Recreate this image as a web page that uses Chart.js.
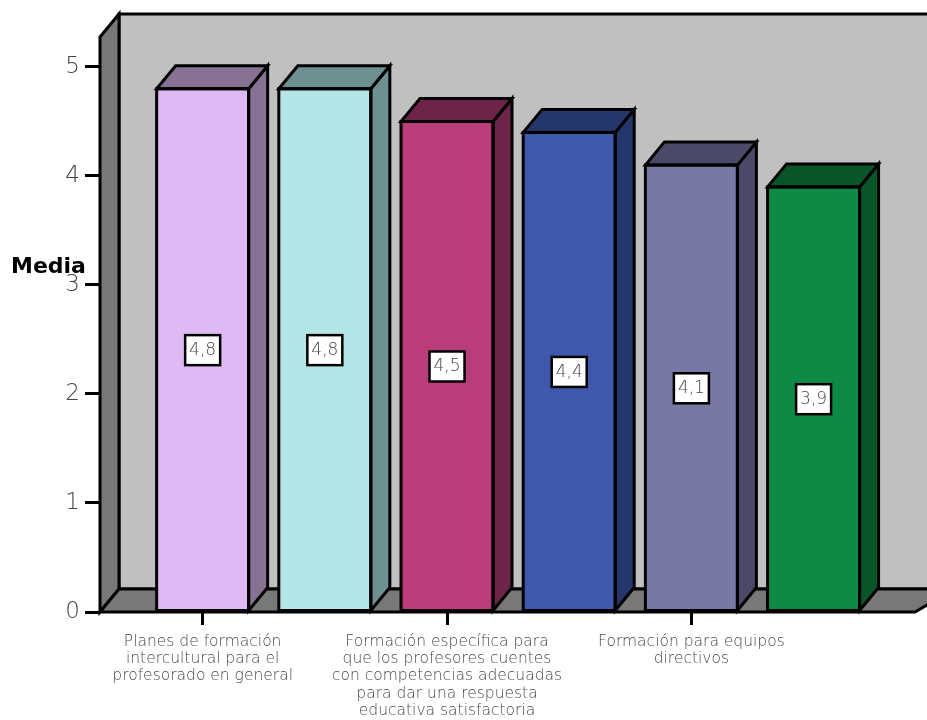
<!DOCTYPE html>
<html>
<head>
<meta charset="utf-8">
<script src="https://cdn.jsdelivr.net/npm/chart.js@4"></script>
<style>
  body { margin: 0; background: #fff; }
  #wrap { width: 927px; height: 720px; position: relative; }
</style>
</head>
<body>
<div id="wrap"><canvas id="chart"></canvas></div>
<script>
// bar values (one per bar)
const values = [4.8, 4.8, 4.5, 4.4, 4.1, 3.9];
const frontColors = ['#dfb9f3', '#b4e6e8', '#b93d7b', '#3e59ac', '#7878a5', '#0f8a46'];
const sideColors = ['#877294', '#6e9090', '#6e2449', '#25366a', '#4a4a68', '#095429'];
// only every other category is labelled in the original
const labelPositions = [0, 2, 4];
const labelLines = [
    ['Planes de formación', 'intercultural para el', 'profesorado en general'],
    ['Formación específica para', 'que los profesores cuentes', 'con competencias adecuadas', 'para dar una respuesta', 'educativa satisfactoria'],
    ['Formación para equipos', 'directivos']
];
const yTicks = [0, 1, 2, 3, 4, 5];

const depthX = 19;
const depthY = -23;
const thinFont = "'DejaVu Sans', sans-serif";

function fmt(v) {
    return v.toFixed(1).replace('.', ',');
}

function poly(c, pts, fill) {
    c.beginPath();
    c.moveTo(pts[0][0], pts[0][1]);
    for (let i = 1; i < pts.length; i++) c.lineTo(pts[i][0], pts[i][1]);
    c.closePath();
    c.fillStyle = fill;
    c.fill();
    c.stroke();
}

const box3d = {
    id: 'box3d',
    beforeDatasetsDraw(chart) {
        const c = chart.ctx;
        const a = chart.chartArea;
        const y0 = chart.scales.y.getPixelForValue(0);
        c.save();
        c.lineWidth = 3;
        c.strokeStyle = '#000';
        // back wall
        poly(c, [[a.left + depthX, a.top + depthY], [a.right + 40, a.top + depthY],
                 [a.right + 40, y0 + depthY], [a.left + depthX, y0 + depthY]], '#c0c0c0');
        // left wall
        poly(c, [[a.left, a.top], [a.left + depthX, a.top + depthY],
                 [a.left + depthX, y0 + depthY], [a.left, y0]], '#787878');
        // floor
        poly(c, [[a.left, y0], [a.left + depthX, y0 + depthY],
                 [a.right + depthX + 20, y0 + depthY], [a.right, y0]], '#787878');
        c.restore();
    },
    afterDatasetsDraw(chart) {
        const c = chart.ctx;
        const meta = chart.getDatasetMeta(0);
        c.save();
        c.lineWidth = 3;
        c.strokeStyle = '#000';
        meta.data.forEach((bar, i) => {
            const p = bar.getProps(['x', 'y', 'base', 'width'], true);
            const l = p.x - p.width / 2, r = p.x + p.width / 2;
            // side face
            poly(c, [[r, p.y], [r + depthX, p.y + depthY], [r + depthX, p.base + depthY], [r, p.base]], sideColors[i]);
            // top face
            poly(c, [[l, p.y], [l + depthX, p.y + depthY], [r + depthX, p.y + depthY], [r, p.y]], sideColors[i]);
            // front outline
            c.strokeRect(l, p.y, p.width, p.base - p.y);
            // value box
            const my = (p.y + p.base) / 2;
            c.fillStyle = '#fff';
            c.lineWidth = 2.5;
            c.fillRect(p.x - 17.5, my - 14.5, 35, 30);
            c.strokeRect(p.x - 17.5, my - 14.5, 35, 30);
            c.lineWidth = 3;
            c.fillStyle = '#444';
            c.font = '200 17px ' + thinFont;
            c.textAlign = 'center';
            c.textBaseline = 'middle';
            c.fillText(fmt(values[i]), p.x, my + 1);
        });
        // axis title
        c.fillStyle = '#000';
        c.font = "bold 22px 'DejaVu Sans', sans-serif";
        c.textAlign = 'left';
        c.textBaseline = 'alphabetic';
        c.fillText('Media', 11, 273);
        c.restore();
    }
};

new Chart(document.getElementById('chart'), {
    type: 'bar',
    data: {
        datasets: [{
            data: values.map((v, i) => ({ x: i, y: v })),
            backgroundColor: frontColors,
            borderWidth: 0,
            barThickness: 92
        }]
    },
    options: {
        responsive: true,
        maintainAspectRatio: false,
        animation: false,
        layout: { padding: { top: 37, right: 12, left: 0, bottom: 0 } },
        plugins: { legend: { display: false }, tooltip: { enabled: false } },
        scales: {
            x: {
                type: 'linear',
                min: -0.84,
                max: 5.83,
                offset: false,
                afterBuildTicks(scale) {
                    scale.ticks = labelPositions.map(v => ({ value: v }));
                },
                afterFit(scale) { scale.height = 108; },
                border: { display: false },
                grid: { offset: false, drawOnChartArea: false, drawTicks: true, tickLength: 13, color: '#000', lineWidth: 3 },
                ticks: {
                    autoSkip: false,
                    maxRotation: 0,
                    padding: 8,
                    color: '#4a4a4a',
                    font: { family: thinFont, size: 15.5, weight: 200, lineHeight: 1.12 },
                    callback: (v) => labelLines[labelPositions.indexOf(v)]
                }
            },
            y: {
                min: 0,
                max: 5.275,
                afterBuildTicks(scale) {
                    scale.ticks = yTicks.map(v => ({ value: v }));
                },
                afterFit(scale) { scale.width = 100; },
                border: { display: false },
                grid: { drawOnChartArea: false, drawTicks: true, tickLength: 15, color: '#000', lineWidth: 3 },
                ticks: {
                    padding: 5,
                    color: '#444',
                    font: { family: thinFont, size: 23, weight: 200 }
                }
            }
        }
    },
    plugins: [box3d]
});
</script>
</body>
</html>
